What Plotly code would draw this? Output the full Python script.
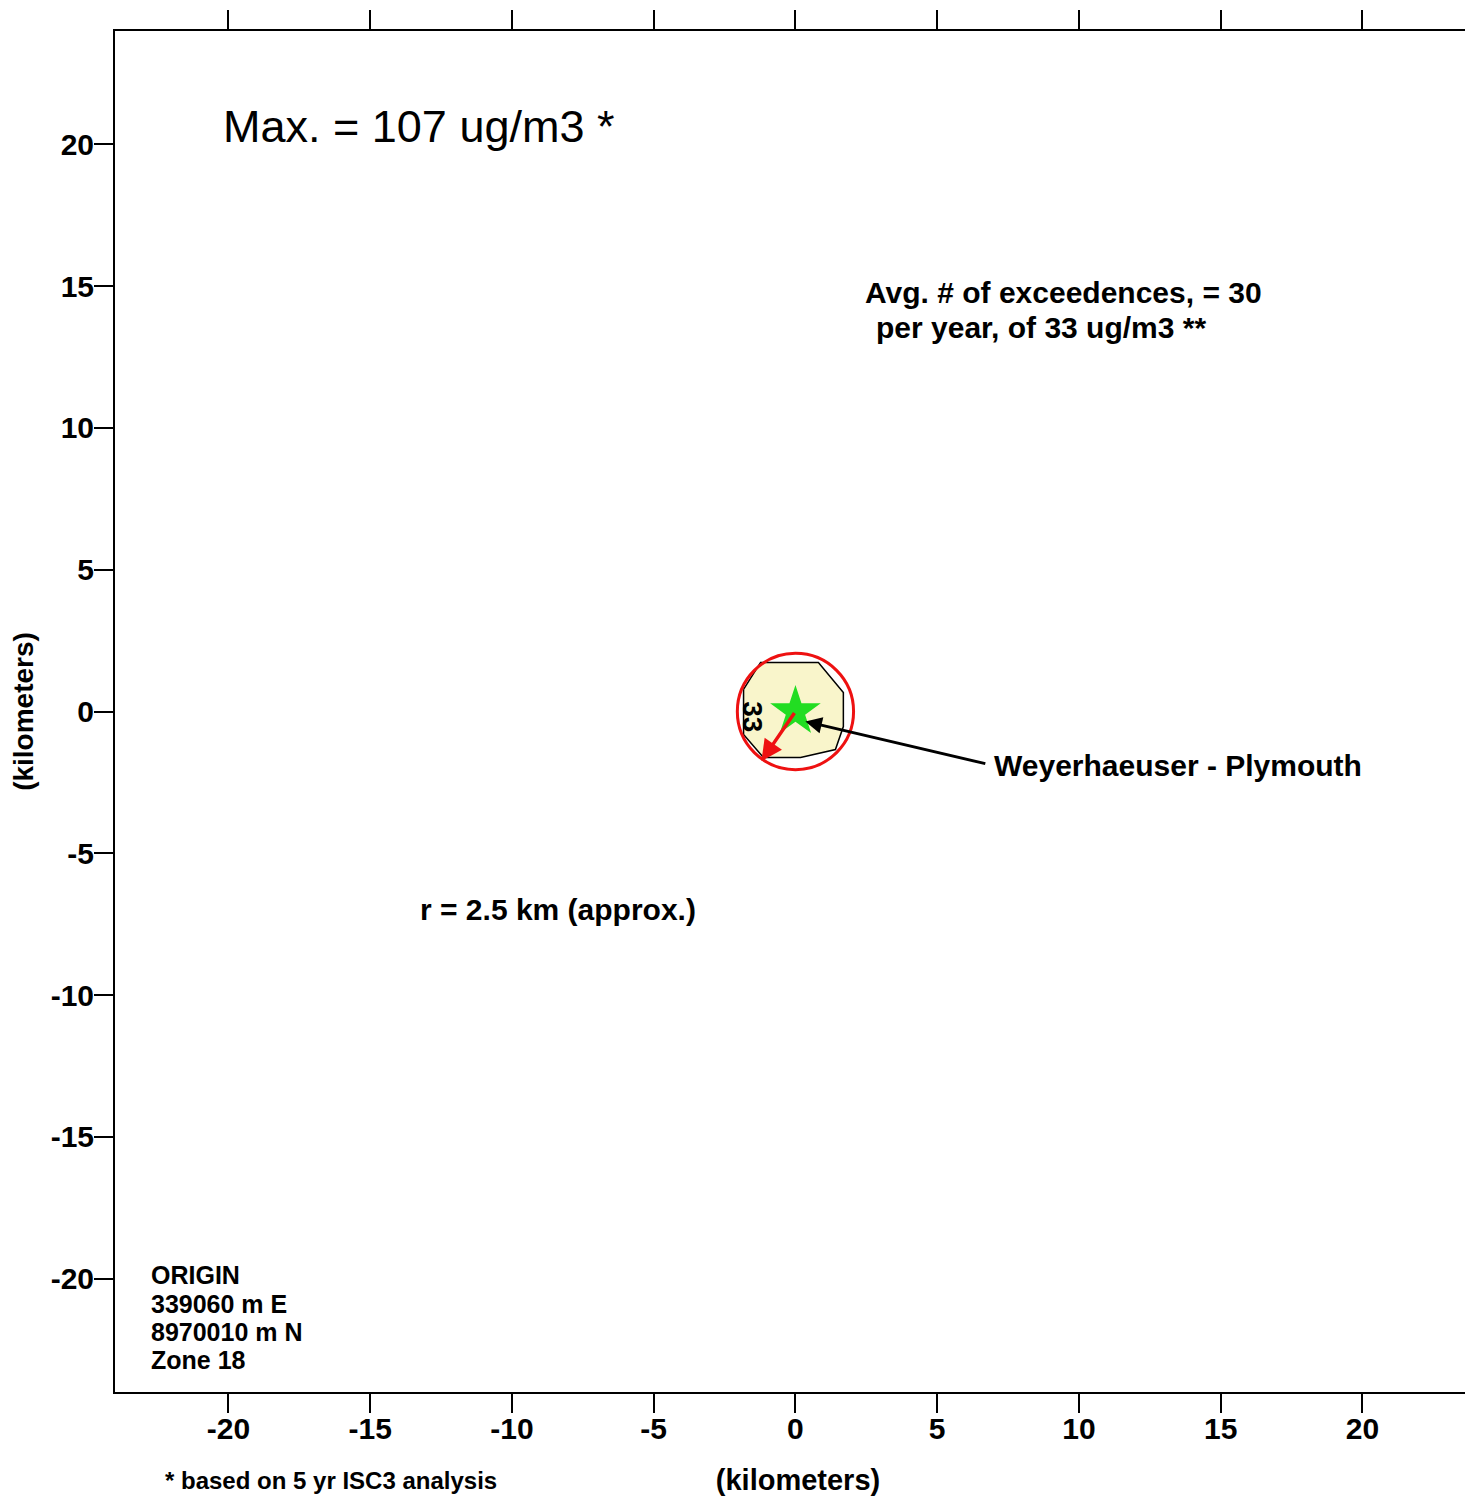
import plotly.graph_objects as go

# ---- data ----
tick_vals = [-20, -15, -10, -5, 0, 5, 10, 15, 20]
tick_text = ["-20", "-15", "-10", "-5", "0", "5", "10", "15", "20"]
contour_x = [-1.83, -1.23, 0.81, 1.69, 1.69, 1.41, 0.18, -1.13, -1.83, -1.83]
contour_y = [0.78, 1.73, 1.73, 0.67, -0.53, -1.34, -1.62, -1.62, -0.81, 0.78]
contour_level = "33"
contour_label_xy = (-1.5, -0.2)
source_xy = (0.0, 0.0)
source_name = "Weyerhaeuser - Plymouth"
source_label_xy = (6.95, -1.9)
radius_km = 2.05
radius_arrow_end = (-1.2, -1.75)
max_text = "Max. = 107 ug/m3 *"
exceed_lines = ["Avg. # of exceedences, = 30", "per year, of 33 ug/m3 **"]
radius_text = "r = 2.5 km (approx.)"
origin_lines = ["ORIGIN", "339060 m E", "8970010 m N", "Zone 18"]
footnote = "* based on 5 yr ISC3 analysis"

FONT = "Liberation Sans"

fig = go.Figure()

# contour polygon
fig.add_trace(go.Scatter(
    x=contour_x, y=contour_y, mode="lines", fill="toself",
    fillcolor="#F9F5CB", line=dict(color="black", width=1.5),
    hoverinfo="skip", showlegend=False))

# red circle
fig.add_shape(type="circle", xref="x", yref="y",
              x0=source_xy[0] - radius_km, x1=source_xy[0] + radius_km,
              y0=source_xy[1] - radius_km, y1=source_xy[1] + radius_km,
              line=dict(color="#EE1111", width=3))

# source star
fig.add_trace(go.Scatter(
    x=[source_xy[0]], y=[source_xy[1]], mode="markers",
    marker=dict(symbol="star", size=38, color="#22DD22", line=dict(width=0)),
    hoverinfo="skip", showlegend=False))

annotations = []
# red radius arrow
annotations.append(dict(
    x=radius_arrow_end[0], y=radius_arrow_end[1], ax=source_xy[0], ay=source_xy[1],
    xref="x", yref="y", axref="x", ayref="y", text="", showarrow=True,
    arrowhead=2, arrowsize=1.2, arrowwidth=3.5, arrowcolor="#EE1111"))
# black pointer arrow to source
annotations.append(dict(
    x=0.35, y=-0.35, ax=source_label_xy[0] - 0.2, ay=source_label_xy[1] + 0.05,
    xref="x", yref="y", axref="x", ayref="y", text="", showarrow=True,
    arrowhead=2, arrowsize=1.1, arrowwidth=3, arrowcolor="black"))
# source label
annotations.append(dict(
    x=source_label_xy[0], y=source_label_xy[1], xref="x", yref="y",
    text="<b>" + source_name + "</b>", showarrow=False,
    xanchor="left", yanchor="middle", font=dict(family=FONT, size=30, color="black")))
# contour level label
annotations.append(dict(
    x=contour_label_xy[0], y=contour_label_xy[1], xref="x", yref="y",
    text="<b>" + contour_level + "</b>", showarrow=False, textangle=90,
    font=dict(family=FONT, size=28, color="black")))
# max text
annotations.append(dict(
    x=-20.25, y=20.63, xref="x", yref="y", text=max_text, showarrow=False,
    xanchor="left", yanchor="middle", font=dict(family=FONT, size=45, color="black")))
# exceedance text
annotations.append(dict(
    x=2.4, y=14.78, xref="x", yref="y",
    text="<b>" + exceed_lines[0] + "</b>", showarrow=False,
    xanchor="left", yanchor="middle", font=dict(family=FONT, size=30, color="black")))
annotations.append(dict(
    x=2.76, y=13.55, xref="x", yref="y",
    text="<b>" + exceed_lines[1] + "</b>", showarrow=False,
    xanchor="left", yanchor="middle", font=dict(family=FONT, size=30, color="black")))
# radius text
annotations.append(dict(
    x=-13.3, y=-6.98, xref="x", yref="y",
    text="<b>" + radius_text + "</b>", showarrow=False,
    xanchor="left", yanchor="middle", font=dict(family=FONT, size=30, color="black")))
# origin block
for i, line in enumerate(origin_lines):
    annotations.append(dict(
        x=-22.8, y=-19.89 - i * 0.99, xref="x", yref="y",
        text="<b>" + line + "</b>", showarrow=False,
        xanchor="left", yanchor="middle", font=dict(family=FONT, size=25, color="black")))
# footnote at bottom
annotations.append(dict(
    x=-22.3, y=-0.0765, xref="x", yref="paper", text="<b>" + footnote + "</b>",
    showarrow=False, xanchor="left", yanchor="bottom",
    font=dict(family=FONT, size=24, color="black")))

axis_common = dict(
    tickmode="array", tickvals=tick_vals, ticktext=tick_text,
    showgrid=False, zeroline=False, showline=True, linecolor="black", linewidth=2,
    ticks="outside", ticklen=19, tickwidth=2, tickcolor="black", mirror="ticks",
    tickfont=dict(family=FONT, size=30, color="black", weight="bold"),
    automargin=False,
)

# the page body adds an 8 px offset, margins compensate for it
fig.update_layout(
    template="none",
    width=1473, height=1498,
    margin=dict(l=107, r=0, t=23, b=114),
    paper_bgcolor="white", plot_bgcolor="white",
    showlegend=False,
    annotations=annotations,
    xaxis=dict(range=[-24, 24.18], ticklabelstandoff=-10, **axis_common,
               title=dict(text="<b>(kilometers)</b>", standoff=26,
                          font=dict(family=FONT, size=29, color="black"))),
    yaxis=dict(range=[-24, 24], ticklabelstandoff=-6, **axis_common,
               title=dict(text="<b>(kilometers)</b>", standoff=14,
                          font=dict(family=FONT, size=28, color="black"))),
)

fig.write_html("out.html")
